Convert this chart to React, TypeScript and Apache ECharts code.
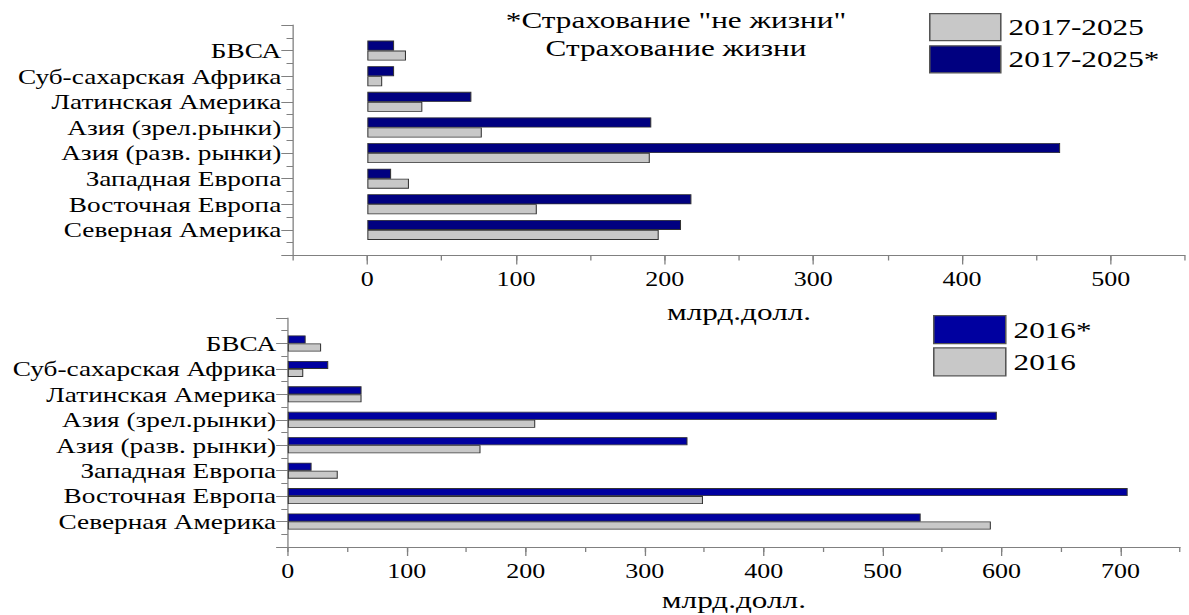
import React, { useEffect, useRef } from "react";
import * as echarts from "echarts";

// Categories (top to bottom)
const regions = [
  "БВСА",
  "Суб-сахарская Африка",
  "Латинская Америка",
  "Азия (зрел.рынки)",
  "Азия (разв. рынки)",
  "Западная Европа",
  "Восточная Европа",
  "Северная Америка",
];

// Top chart: growth 2017-2025, bn USD
const growthNonLife = [18, 18, 70, 191, 466, 16, 218, 211]; // 2017-2025*
const growthLife = [26, 10, 37, 77, 190, 28, 114, 196]; // 2017-2025

// Bottom chart: premiums 2016, bn USD
const prem2016NonLife = [15, 34, 62, 596, 336, 20, 706, 532]; // 2016*
const prem2016Life = [28, 13, 62, 208, 162, 42, 349, 591]; // 2016

const topTickLabels = [0, 100, 200, 300, 400, 500];
const bottomTickLabels = [0, 100, 200, 300, 400, 500, 600, 700];

const titleLine1 = '*Страхование "не жизни"';
const titleLine2 = "Страхование жизни";
const unitName = "млрд.долл.";

const FONT = "Liberation Serif";
const STRETCH = 1.3;
const INNER_W = 1189 / STRETCH;

const pad = (arr: number[]) => ["-", ...arr, "-"];
const padCats = ["", ...regions, ""];

const NAVY_TOP = "#000080";
const NAVY_BOTTOM = "#0000A0";
const GREY = "#C8C8C8";
const AXIS = "#808080";

export default function App() {
  const ref = useRef<HTMLDivElement>(null);

  useEffect(() => {
    if (!ref.current) return;
    const chart = echarts.init(ref.current, undefined, { renderer: "svg" });

    const grids = [
      { left: 293 / STRETCH, top: 25, width: (1185 - 293) / STRETCH, height: 230.5 },
      { left: 287.8 / STRETCH, top: 318, width: (1180 - 287.8) / STRETCH, height: 229 },
    ];

    const mainX = (gridIndex: number, max: number, min: number, nameGap: number) => ({
      type: "value",
      gridIndex,
      min,
      max,
      interval: 50,
      position: "bottom",
      axisLine: { show: true, onZero: false, lineStyle: { color: AXIS, width: 1 } },
      axisTick: { show: true, length: 5, lineStyle: { color: AXIS } },
      axisLabel: { show: false },
      splitLine: { show: false },
      name: unitName,
      nameLocation: "middle",
      nameGap,
      nameTextStyle: { fontSize: 24, fontFamily: FONT, color: "#000" },
    });

    const labelX = (gridIndex: number, max: number, min: number, ticks: number[]) => ({
      type: "value",
      gridIndex,
      min,
      max,
      interval: 50,
      position: "bottom",
      axisLine: { show: false, onZero: false },
      axisTick: { show: true, length: 9, customValues: ticks, lineStyle: { color: AXIS } },
      axisLabel: {
        show: true,
        customValues: ticks,
        fontSize: 20,
        fontFamily: FONT,
        color: "#000",
        margin: 14,
      },
      splitLine: { show: false },
    });

    const catY = (gridIndex: number) => ({
      type: "category",
      gridIndex,
      data: padCats,
      inverse: true,
      boundaryGap: false,
      position: "left",
      axisLine: { show: true, onZero: false, lineStyle: { color: AXIS, width: 1 } },
      axisTick: { show: true, interval: 0, length: 9, lineStyle: { color: AXIS } },
      axisLabel: { interval: 0, fontSize: 21, fontFamily: FONT, color: "#000", margin: 9 },
      splitLine: { show: false },
    });

    const halfY = (gridIndex: number) => ({
      type: "value",
      gridIndex,
      min: 0,
      max: 9,
      interval: 0.5,
      position: "left",
      axisLine: { show: false, onZero: false },
      axisTick: { show: true, length: 5, lineStyle: { color: AXIS } },
      axisLabel: { show: false },
      splitLine: { show: false },
    });

    const barStyle = (color: string) => ({
      color,
      borderColor: "#333",
      borderWidth: 0.8,
    });

    const legendText = { fontSize: 24, fontFamily: FONT, color: "#000", padding: [0, 0, 0, 1] };

    chart.setOption({
      animation: false,
      backgroundColor: "#fff",
      textStyle: { fontFamily: FONT },
      grid: grids.map((g) => ({ ...g, containLabel: false, outerBoundsMode: "none" })),
      xAxis: [
        mainX(0, 550, -50, 44),
        labelX(0, 550, -50, topTickLabels),
        mainX(1, 750, 0, 41),
        labelX(1, 750, 0, bottomTickLabels),
      ],
      yAxis: [catY(0), halfY(0), catY(1), halfY(1)],
      legend: [
        {
          orient: "vertical",
          left: 929 / STRETCH - 5,
          top: 8,
          itemWidth: 71 / STRETCH,
          itemHeight: 27,
          itemGap: 4,
          icon: "rect",
          data: ["2017-2025", "2017-2025*"],
          textStyle: legendText,
          itemStyle: { borderColor: "#555", borderWidth: 1.2 },
          selectedMode: false,
        },
        {
          orient: "vertical",
          left: 933 / STRETCH - 5,
          top: 310,
          itemWidth: 72 / STRETCH,
          itemHeight: 28,
          itemGap: 3,
          icon: "rect",
          data: ["2016*", "2016"],
          textStyle: legendText,
          itemStyle: { borderColor: "#555", borderWidth: 1.2 },
          selectedMode: false,
        },
      ],
      graphic: [
        {
          type: "text",
          x: 676 / STRETCH,
          y: 20,
          style: {
            text: titleLine1,
            fontSize: 24,
            fontFamily: FONT,
            fill: "#000",
            align: "center",
            verticalAlign: "middle",
          },
        },
        {
          type: "text",
          x: 676 / STRETCH,
          y: 48,
          style: {
            text: titleLine2,
            fontSize: 24,
            fontFamily: FONT,
            fill: "#000",
            align: "center",
            verticalAlign: "middle",
          },
        },
      ],
      series: [
        {
          name: "2017-2025*",
          type: "bar",
          xAxisIndex: 0,
          yAxisIndex: 0,
          data: pad(growthNonLife),
          barWidth: 10,
          barGap: "0%",
          itemStyle: barStyle(NAVY_TOP),
        },
        {
          name: "2017-2025",
          type: "bar",
          xAxisIndex: 0,
          yAxisIndex: 0,
          data: pad(growthLife),
          barWidth: 10,
          barGap: "0%",
          itemStyle: barStyle(GREY),
        },
        {
          name: "2016*",
          type: "bar",
          xAxisIndex: 2,
          yAxisIndex: 2,
          data: pad(prem2016NonLife),
          barWidth: 8,
          barGap: "0%",
          itemStyle: barStyle(NAVY_BOTTOM),
        },
        {
          name: "2016",
          type: "bar",
          xAxisIndex: 2,
          yAxisIndex: 2,
          data: pad(prem2016Life),
          barWidth: 8,
          barGap: "0%",
          itemStyle: barStyle(GREY),
        },
      ],
    });

    return () => chart.dispose();
  }, []);

  return (
    <div
      ref={ref}
      style={{
        position: "fixed",
        left: 0,
        top: 0,
        width: INNER_W,
        height: 615,
        transform: `scaleX(${STRETCH})`,
        transformOrigin: "0 0",
        background: "#fff",
      }}
    />
  );
}
